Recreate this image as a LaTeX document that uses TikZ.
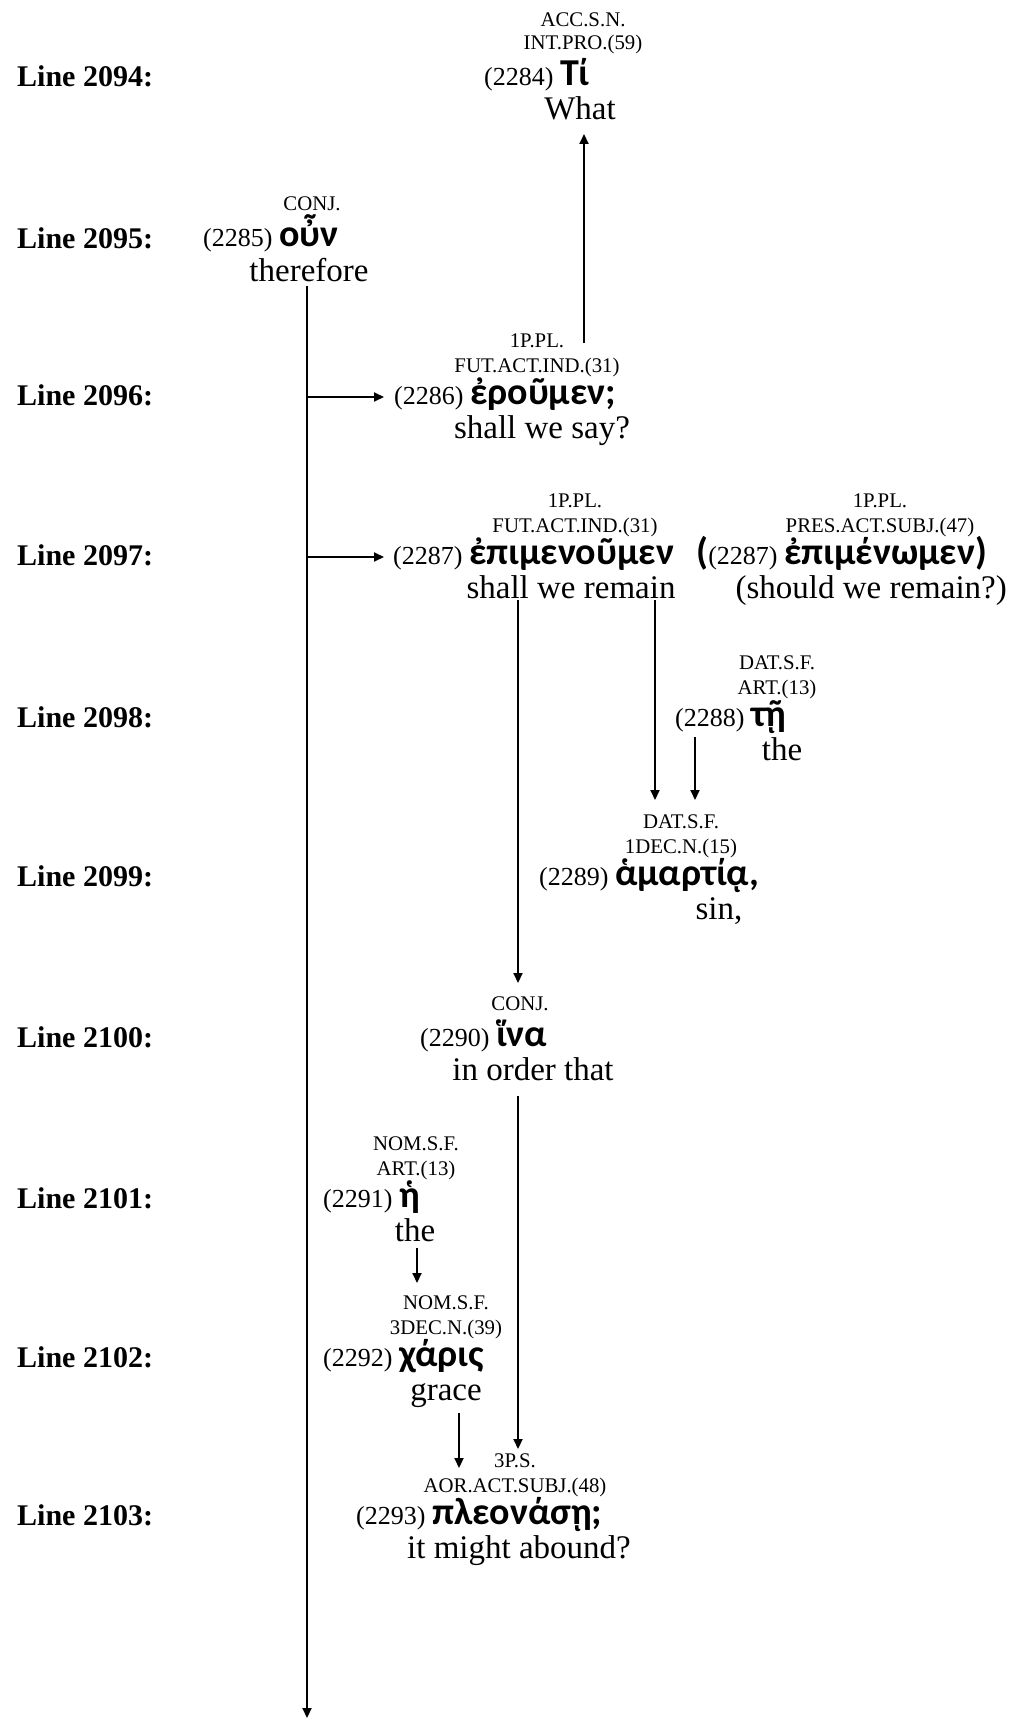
\documentclass[tikz,border=0pt]{standalone}
\usepackage{fontspec}
\setmainfont{Liberation Serif}
\newfontfamily\gkfont{Carlito}
\usetikzlibrary{arrows.meta}
\newcommand{\wnum}[1]{{\fontsize{26}{28}\selectfont(#1)\hspace{6.5pt}}}
\newcommand{\gkw}[1]{{\gkfont\bfseries\fontsize{38}{40}\selectfont #1}}
\tikzset{
  gram/.style={font=\fontsize{20.8}{22}\selectfont, inner sep=0pt, anchor=base},
  gloss/.style={font=\fontsize{33}{36}\selectfont, inner sep=0pt, anchor=base},
  word/.style={inner sep=0pt, anchor=base west},
  lbl/.style={font=\bfseries\fontsize{30}{32}\selectfont, inner sep=0pt, anchor=base west},
  arr/.style={line width=2pt, -{Triangle[length=10pt,width=9pt]}},
}
\begin{document}
\begin{tikzpicture}[x=1pt,y=-1pt]
\useasboundingbox (0,0) rectangle (1012,1720);
% line labels
\node[lbl] (L94) at (17,87) {Line 2094:};
\node[lbl] (L95) at (17,248) {Line 2095:};
\node[lbl] (L96) at (17,405) {Line 2096:};
\node[lbl] (L97) at (17,565) {Line 2097:};
\node[lbl] (L98) at (17,727) {Line 2098:};
\node[lbl] (L99) at (17,886) {Line 2099:};
\node[lbl] (L00) at (17,1047) {Line 2100:};
\node[lbl] (L01) at (17,1208) {Line 2101:};
\node[lbl] (L02) at (17,1367) {Line 2102:};
\node[lbl] (L03) at (17,1525) {Line 2103:};
% 2284
\node[gram] (Ag1) at (583,27) {ACC.S.N.};
\node[gram] (Ag2) at (583,50) {INT.PRO.(59)};
\node[word] (Aw) at (484,86) {\wnum{2284}\gkw{Τί}};
\node[gloss] (Agl) at (580,120) {What};
% 2285
\node[gram] (Bg1) at (312,211) {CONJ.};
\node[word] (Bw) at (203,247) {\wnum{2285}\gkw{οὖν}};
\node[gloss] (Bgl) at (309,281) {therefore};
% 2286
\node[gram] (Cg1) at (537,347) {1P.PL.};
\node[gram] (Cg2) at (537,372) {FUT.ACT.IND.(31)};
\node[word] (Cw) at (394,404) {\wnum{2286}\gkw{ἐροῦμεν;}};
\node[gloss] (Cgl) at (542,438) {shall we say?};
% 2287
\node[gram] (Dg1) at (575,507) {1P.PL.};
\node[gram] (Dg2) at (575,532) {FUT.ACT.IND.(31)};
\node[word] (Dw) at (393,564) {\wnum{2287}\gkw{ἐπιμενοῦμεν}};
\node[gloss] (Dgl) at (571,598) {shall we remain};
% alternative 2287
\node[gram] (Eg1) at (880,507) {1P.PL.};
\node[gram] (Eg2) at (880,532) {PRES.ACT.SUBJ.(47)};
\node[inner sep=0pt, anchor=base east] (Ew) at (987,564) {\gkw{(}\wnum{2287}\gkw{ἐπιμένωμεν)}};
\node[gloss, anchor=base east] (Egl) at (1007,598) {(should we remain?)};
% 2288
\node[gram] (Fg1) at (777,669) {DAT.S.F.};
\node[gram] (Fg2) at (777,694) {ART.(13)};
\node[word] (Fw) at (675,726) {\wnum{2288}\gkw{τῇ}};
\node[gloss] (Fgl) at (782,760) {the};
% 2289
\node[gram] (Gg1) at (681,828) {DAT.S.F.};
\node[gram] (Gg2) at (681,853) {1DEC.N.(15)};
\node[word] (Gw) at (539,885) {\wnum{2289}\gkw{ἁμαρτίᾳ,}};
\node[gloss] (Ggl) at (719,919) {sin,};
% 2290
\node[gram] (Hg1) at (520,1010) {CONJ.};
\node[word] (Hw) at (420,1046) {\wnum{2290}\gkw{ἵνα}};
\node[gloss] (Hgl) at (533,1080) {in order that};
% 2291
\node[gram] (Ig1) at (416,1150) {NOM.S.F.};
\node[gram] (Ig2) at (416,1175) {ART.(13)};
\node[word] (Iw) at (323,1207) {\wnum{2291}\gkw{ἡ}};
\node[gloss] (Igl) at (415,1241) {the};
% 2292
\node[gram] (Jg1) at (446,1309) {NOM.S.F.};
\node[gram] (Jg2) at (446,1334) {3DEC.N.(39)};
\node[word] (Jw) at (323,1366) {\wnum{2292}\gkw{χάρις}};
\node[gloss] (Jgl) at (446,1400) {grace};
% 2293
\node[gram] (Kg1) at (515,1467) {3P.S.};
\node[gram] (Kg2) at (515,1492) {AOR.ACT.SUBJ.(48)};
\node[word] (Kw) at (356,1524) {\wnum{2293}\gkw{πλεονάσῃ;}};
\node[gloss] (Kgl) at (519,1558) {it might abound?};
% connector end points
\coordinate (t0) at (307,286);
\coordinate (t1) at (307,1718);
\coordinate (tC) at (307,397);
\coordinate (tD) at (307,557);
\coordinate (inC) at (384,397);
\coordinate (inD) at (384,557);
\coordinate (cUp0) at (584,343);
\coordinate (cUp1) at (584,134);
\coordinate (dL0) at (518,600);
\coordinate (dL1) at (518,983);
\coordinate (dR0) at (655,600);
\coordinate (dR1) at (655,800);
\coordinate (f0) at (695,737);
\coordinate (f1) at (695,800);
\coordinate (h0) at (518,1096);
\coordinate (h1) at (518,1449);
\coordinate (i0) at (417,1248);
\coordinate (i1) at (417,1283);
\coordinate (j0) at (459,1413);
\coordinate (j1) at (459,1468);
\draw[arr] (t0) -- (t1);
\draw[arr] (tC) -- (inC);
\draw[arr] (tD) -- (inD);
\draw[arr] (cUp0) -- (cUp1);
\draw[arr] (dL0) -- (dL1);
\draw[arr] (dR0) -- (dR1);
\draw[arr] (f0) -- (f1);
\draw[arr] (h0) -- (h1);
\draw[arr] (i0) -- (i1);
\draw[arr] (j0) -- (j1);
\end{tikzpicture}
\end{document}
